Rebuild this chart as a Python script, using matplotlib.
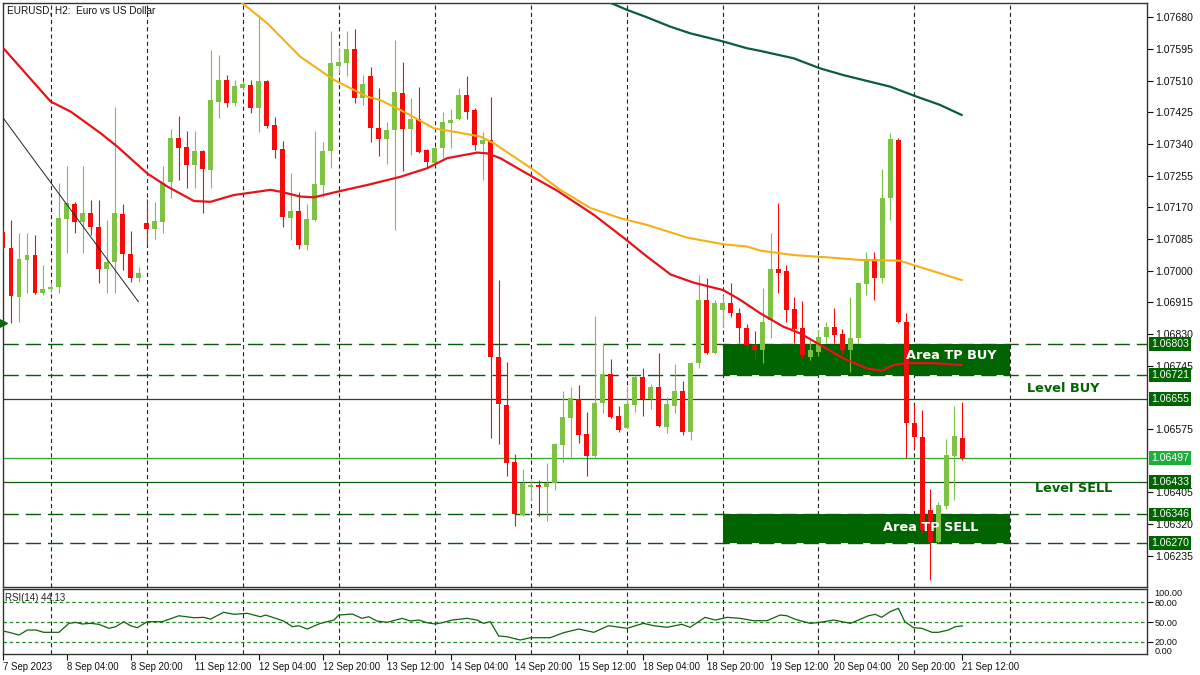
import matplotlib
matplotlib.use("Agg")
import matplotlib.pyplot as plt
import matplotlib.transforms as mtransforms
import numpy as np

plt.rcParams['lines.scale_dashes'] = False
plt.rcParams['font.family'] = ['Liberation Sans', 'DejaVu Sans']

# ---------------- data (H2 bars, index 0 = 7 Sep 2023 12:00) ----------------
opens = [
    1.07105, 1.07062, 1.06930, 1.07029, 1.07042, 1.06939, 1.06952, 1.06956, 1.07139, 1.07179,
    1.07132, 1.07154, 1.07117, 1.07006, 1.07024, 1.07151, 1.07045, 1.06980, 1.07127, 1.07112,
    1.07132, 1.07239, 1.07357, 1.07333, 1.07284, 1.07322, 1.07270, 1.07454, 1.07512, 1.07451,
    1.07490, 1.07498, 1.07437, 1.07509, 1.07391, 1.07326, 1.07142, 1.07161, 1.07069, 1.07136,
    1.07230, 1.07321, 1.07550, 1.07558, 1.07595, 1.07464, 1.07523, 1.07384, 1.07353, 1.07378,
    1.07476, 1.07380, 1.07407, 1.07324, 1.07290, 1.07329, 1.07397, 1.07406, 1.07472, 1.07431,
    1.07339, 1.07351, 1.06768, 1.06640, 1.06486, 1.06345, 1.06421, 1.06425, 1.06421, 1.06431,
    1.06532, 1.06606, 1.06655, 1.06562, 1.06503, 1.06644, 1.06723, 1.06610, 1.06579, 1.06640,
    1.06716, 1.06655, 1.06687, 1.06582, 1.06638, 1.06678, 1.06568, 1.06752, 1.06922, 1.06780,
    1.06895, 1.06914, 1.06886, 1.06846, 1.06801, 1.06787, 1.06868, 1.07004, 1.06999, 1.06897,
    1.06846, 1.06769, 1.06783, 1.06821, 1.06848, 1.06830, 1.06787, 1.06819, 1.06964, 1.07032,
    1.06980, 1.07194, 1.07351, 1.06863, 1.06592, 1.06553, 1.06358, 1.06273, 1.06369, 1.06503,
    1.06552]
highs = [
    1.07112, 1.07136, 1.07100, 1.07101, 1.07096, 1.07015, 1.06970, 1.07235, 1.07282, 1.07185,
    1.07282, 1.07190, 1.07190, 1.07136, 1.07440, 1.07179, 1.07107, 1.07011, 1.07192, 1.07185,
    1.07282, 1.07380, 1.07416, 1.07376, 1.07376, 1.07324, 1.07592, 1.07579, 1.07525, 1.07513,
    1.07510, 1.07512, 1.07686, 1.07512, 1.07412, 1.07348, 1.07261, 1.07212, 1.07179, 1.07376,
    1.07346, 1.07643, 1.07597, 1.07644, 1.07649, 1.07525, 1.07547, 1.07490, 1.07400, 1.07619,
    1.07561, 1.07463, 1.07492, 1.07326, 1.07331, 1.07427, 1.07434, 1.07490, 1.07523, 1.07436,
    1.07373, 1.07467, 1.06975, 1.06756, 1.06508, 1.06467, 1.06439, 1.06439, 1.06485, 1.06537,
    1.06678, 1.06689, 1.06693, 1.06622, 1.06879, 1.06805, 1.06762, 1.06637, 1.06691, 1.06720,
    1.06738, 1.06696, 1.06780, 1.06662, 1.06750, 1.06705, 1.06756, 1.06989, 1.06981, 1.06922,
    1.06935, 1.06966, 1.06900, 1.06857, 1.06837, 1.06953, 1.07100, 1.07181, 1.07015, 1.06929,
    1.06919, 1.06814, 1.06841, 1.06863, 1.06899, 1.06843, 1.06930, 1.06971, 1.07051, 1.07051,
    1.07272, 1.07370, 1.07355, 1.06887, 1.06640, 1.06626, 1.06414, 1.06380, 1.06548, 1.06637,
    1.06649]
lows = [
    1.07056, 1.06861, 1.06863, 1.06940, 1.06938, 1.06935, 1.06943, 1.06940, 1.07047, 1.07100,
    1.07047, 1.07096, 1.06966, 1.06939, 1.06939, 1.07002, 1.06971, 1.06971, 1.07069, 1.07084,
    1.07100, 1.07194, 1.07244, 1.07221, 1.07221, 1.07154, 1.07221, 1.07409, 1.07440, 1.07442,
    1.07485, 1.07422, 1.07373, 1.07382, 1.07302, 1.07118, 1.07082, 1.07058, 1.07056, 1.07134,
    1.07199, 1.07275, 1.07530, 1.07523, 1.07449, 1.07445, 1.07346, 1.07308, 1.07286, 1.07109,
    1.07268, 1.07311, 1.07317, 1.07279, 1.07284, 1.07302, 1.07329, 1.07404, 1.07406, 1.07324,
    1.07244, 1.06550, 1.06535, 1.06449, 1.06315, 1.06342, 1.06385, 1.06342, 1.06329, 1.06412,
    1.06488, 1.06499, 1.06539, 1.06449, 1.06501, 1.06618, 1.06604, 1.06568, 1.06577, 1.06622,
    1.06610, 1.06628, 1.06581, 1.06564, 1.06618, 1.06559, 1.06546, 1.06740, 1.06777, 1.06777,
    1.06850, 1.06877, 1.06807, 1.06789, 1.06762, 1.06752, 1.06819, 1.06939, 1.06862, 1.06805,
    1.06765, 1.06761, 1.06771, 1.06805, 1.06805, 1.06777, 1.06729, 1.06805, 1.06935, 1.06922,
    1.06968, 1.07136, 1.06860, 1.06497, 1.06524, 1.06296, 1.06170, 1.06269, 1.06360, 1.06385,
    1.06492]
closes = [
    1.07060, 1.06933, 1.07032, 1.07042, 1.06939, 1.06951, 1.06957, 1.07141, 1.07181, 1.07132,
    1.07154, 1.07118, 1.07004, 1.07023, 1.07154, 1.07044, 1.06980, 1.06993, 1.07112, 1.07134,
    1.07236, 1.07357, 1.07330, 1.07284, 1.07322, 1.07273, 1.07458, 1.07512, 1.07449, 1.07496,
    1.07501, 1.07437, 1.07509, 1.07388, 1.07324, 1.07145, 1.07160, 1.07069, 1.07138, 1.07233,
    1.07321, 1.07558, 1.07561, 1.07594, 1.07463, 1.07500, 1.07382, 1.07353, 1.07378, 1.07480,
    1.07380, 1.07407, 1.07319, 1.07293, 1.07329, 1.07398, 1.07404, 1.07472, 1.07427, 1.07337,
    1.07351, 1.06769, 1.06642, 1.06485, 1.06347, 1.06431, 1.06425, 1.06421, 1.06431, 1.06535,
    1.06608, 1.06658, 1.06559, 1.06503, 1.06644, 1.06723, 1.06607, 1.06573, 1.06643, 1.06716,
    1.06655, 1.06687, 1.06583, 1.06643, 1.06678, 1.06568, 1.06752, 1.06922, 1.06780, 1.06914,
    1.06914, 1.06886, 1.06846, 1.06801, 1.06787, 1.06863, 1.07004, 1.06995, 1.06895, 1.06843,
    1.06774, 1.06787, 1.06821, 1.06848, 1.06828, 1.06786, 1.06820, 1.06966, 1.07032, 1.06980,
    1.07194, 1.07353, 1.06863, 1.06592, 1.06553, 1.06304, 1.06273, 1.06372, 1.06506, 1.06557,
    1.06497]

# moving averages (bar position, price)
ma_red_x = [0.05, 5.96, 8.46, 12.21, 14.3, 18.05, 20.55, 23.9, 25.96, 28.84, 33.46, 34.71, 37.21,
            38.9, 41.8, 45.55, 49.7, 53.05, 55.55, 59.3, 60.55, 62.2, 65.1, 69.3, 73.9, 77.6,
            80.55, 83.5, 86.4, 90.1, 92.2, 94.7, 97.6, 99.7, 102.2, 105.1, 108.05, 109.9, 111.4,
            113.05, 116.4, 119.9]
ma_red_y = [1.07597, 1.07454, 1.07427, 1.07369, 1.07333, 1.07261, 1.07226, 1.07187, 1.07185,
            1.07203, 1.07217, 1.07212, 1.07199, 1.07197, 1.07212, 1.07230, 1.07252, 1.07275,
            1.07302, 1.07317, 1.07315, 1.07302, 1.07266, 1.07215, 1.07150, 1.07089, 1.07038,
            1.06990, 1.06968, 1.06948, 1.06922, 1.06886, 1.06850, 1.06832, 1.06801, 1.06765,
            1.06738, 1.06731, 1.06747, 1.06752, 1.06752, 1.06747]
ma_orange_x = [29.7, 33.05, 37.2, 41.4, 45.55, 47.2, 50.55, 53.9, 56.4, 59.7, 61.4, 63.9, 66.4,
               69.7, 73.5, 77.2, 80.55, 85.55, 90.1, 93.05, 94.7, 98.9, 103.05, 107.2, 112.2,
               113.9, 117.2, 119.9]
ma_orange_y = [1.07722, 1.07664, 1.07574, 1.07512, 1.07467, 1.07458, 1.07422, 1.07382, 1.07373,
               1.07360, 1.07342, 1.07306, 1.07270, 1.07217, 1.07168, 1.07141, 1.07123, 1.07089,
               1.07071, 1.07065, 1.07054, 1.07042, 1.07036, 1.07029, 1.07027, 1.07015, 1.06993,
               1.06975]
ma_teal_x = [75.96, 78.05, 80.55, 83.46, 85.96, 88.05, 90.1, 93.05, 94.7, 98.9, 102.2, 105.1,
             110.96, 114.3, 117.2, 119.9]
ma_teal_y = [1.07719, 1.07700, 1.07680, 1.07655, 1.07637, 1.07626, 1.07615, 1.07597, 1.07590,
             1.07570, 1.07543, 1.07525, 1.07494, 1.07467, 1.07445, 1.07418]

# RSI(14)
rsi_x = [0, 0.75, 2, 3.05, 4.1, 5.1, 7, 8.25, 9.1, 9.9,
         10.95, 12, 13.25, 14.1, 15.1, 15.95, 16.8, 18.05, 19.9, 22,
         23.9, 25.1, 25.95, 27.6, 28.9, 30.55, 32.2, 32.85, 34.1, 35.1,
         36.2, 37, 38.05, 39.7, 41.4, 42, 43.7, 44.9, 45.75, 46.8,
         48.05, 49.9, 50.95, 52, 53.05, 54.1, 55.1, 56.2, 58.05, 59.3,
         60.1, 60.95, 62, 63.05, 64.7, 65.95, 68.45, 70.1, 72, 73.9,
         75.75, 78.05, 80.1, 81.4, 83.05, 84.9, 85.95, 87.8, 89.1, 90.55,
         92.2, 93.9, 95.55, 97.2, 98.05, 99.1, 100.95, 102.2, 103.9, 106,
         107, 108.25, 109.1, 109.9, 110.95, 112, 112.8, 113.9, 114.9, 116.2,
         117, 118.25, 119.1, 120]
rsi_y = [36.4, 34.4, 30.3, 37.9, 37.9, 34.4, 34.4, 48.0, 49.5, 47.0,
         48.0, 46.5, 40.5, 42.9, 50.5, 44.4, 41.4, 50.5, 50.5, 59.5,
         56.5, 57.1, 54.5, 64.7, 61.7, 63.2, 58.0, 60.6, 55.6, 51.5,
         42.9, 44.4, 39.4, 48.0, 53.0, 60.6, 62.1, 55.6, 58.0, 51.5,
         49.5, 55.6, 51.5, 53.0, 48.9, 47.0, 49.5, 53.0, 55.6, 53.0,
         48.0, 50.5, 28.8, 27.7, 22.7, 26.2, 26.2, 33.8, 39.4, 34.4,
         44.4, 40.5, 48.0, 44.4, 42.0, 46.5, 42.0, 57.1, 53.0, 57.1,
         55.6, 52.0, 52.0, 60.6, 59.5, 54.1, 48.0, 49.5, 53.0, 48.0,
         53.0, 59.5, 61.7, 57.1, 65.6, 70.8, 50.5, 41.4, 40.5, 34.4,
         34.4, 37.9, 42.9, 44.13]
rsi_levels = [80, 50, 20]

# time axis labels (bar index -> label), day separators
time_tick_bars = [0, 8, 16, 24, 32, 40, 48, 56, 64, 72, 80, 88, 96, 104, 112, 120]
time_tick_labels = ['7 Sep 2023', '8 Sep 04:00', '8 Sep 20:00', '11 Sep 12:00', '12 Sep 04:00',
                    '12 Sep 20:00', '13 Sep 12:00', '14 Sep 04:00', '14 Sep 20:00', '15 Sep 12:00',
                    '18 Sep 04:00', '18 Sep 20:00', '19 Sep 12:00', '20 Sep 04:00', '20 Sep 20:00',
                    '21 Sep 12:00']
day_separator_bars = [6, 18, 30, 42, 54, 66, 78, 90, 102, 114, 126]

# price axis
price_ticks = [1.06235, 1.06320, 1.06405, 1.06575, 1.06745, 1.06830, 1.06915, 1.07000, 1.07085,
               1.07170, 1.07255, 1.07340, 1.07425, 1.07510, 1.07595, 1.07680]
dashed_levels = [1.06803, 1.06721, 1.06346, 1.06270]
solid_levels = [1.06655, 1.06433]
bid_price = 1.06497

# annotation objects
area_start_bar, area_end_bar = 90, 126
area_buy = (1.06721, 1.06803)
area_sell = (1.06270, 1.06346)
trend_x = [0.05, 16.93]
trend_y = [1.07409, 1.06917]

# ---------------- styling ----------------
BULL = '#7dc242'
BEAR = '#f40c0c'
DKGREEN = '#006400'
LEVEL = '#0b5a0b'

W, H = 1200, 675


def px_rect(x0, y0, x1, y1):
    return [x0 / W, 1 - y1 / H, (x1 - x0) / W, (y1 - y0) / H]


fig = plt.figure(figsize=(12, 6.75), dpi=100)
fig.patch.set_facecolor('white')
ax = fig.add_axes(px_rect(3, 3, 1147.3, 587.3))
rax = fig.add_axes(px_rect(3, 589.3, 1147.3, 653.7), sharex=ax)

o = np.array(opens); h = np.array(highs); l = np.array(lows); c = np.array(closes)
xb = np.arange(len(o))
cols = np.where(c >= o, BULL, BEAR)

ax.vlines(xb, l, h, colors=cols, lw=0.8, zorder=3)
ax.bar(xb, np.maximum(np.abs(c - o), 0.00003), bottom=np.minimum(o, c), width=0.62,
       color=cols, lw=0, zorder=3.1)

ax.plot(ma_red_x, ma_red_y, color='#e5141b', lw=1.6, zorder=4, solid_capstyle='round')
ax.plot(ma_orange_x, ma_orange_y, color='#f5b015', lw=1.5, zorder=4)
ax.plot(ma_teal_x, ma_teal_y, color='#0d5a48', lw=1.6, zorder=4)
ax.plot(trend_x, trend_y, color='#222222', lw=0.7, zorder=4)

# areas
for lo, hi in (area_buy, area_sell):
    ax.fill_between([area_start_bar, area_end_bar], lo, hi, color=DKGREEN, lw=0, zorder=2)

# level lines
for lv in dashed_levels:
    ax.axhline(lv, color=LEVEL, lw=1.0, dashes=(11, 5), zorder=2.5)
for lv in solid_levels:
    ax.axhline(lv, color=LEVEL, lw=0.9, zorder=2.5)
ax.axhline(bid_price, color='#2aa52a', lw=0.9, zorder=2.5)

# separators
for a in (ax, rax):
    for b in day_separator_bars:
        a.axvline(b, color='#222222', lw=0.8, dashes=(3, 2.2), zorder=1)

ax.set_xlim(0.09, 143.13)
ax.set_ylim(1.061506, 1.077184)

# labels inside chart
ax.text(118.6, 1.06772, 'Area TP BUY', color='white', fontsize=9.3, fontweight='bold',
        family='DejaVu Sans', ha='center', va='center', zorder=6)
ax.text(116.0, 1.06311, 'Area TP SELL', color='white', fontsize=9.3, fontweight='bold',
        family='DejaVu Sans', ha='center', va='center', zorder=6)
ax.text(132.6, 1.06685, 'Level BUY', color=DKGREEN, fontsize=9.3, fontweight='bold',
        family='DejaVu Sans', ha='center', va='center', zorder=6)
ax.text(133.9, 1.06416, 'Level SELL', color=DKGREEN, fontsize=9.3, fontweight='bold',
        family='DejaVu Sans', ha='center', va='center', zorder=6)

ax.text(0.0035, 0.988, 'EURUSD, H2:  Euro vs US Dollar', transform=ax.transAxes, fontsize=7.2,
        ha='left', va='center', color='#111111')
ax.plot([0], [1.06861], marker='>', color='#0a6a0a', markersize=6, clip_on=False, zorder=6,
        transform=mtransforms.blended_transform_factory(ax.transAxes, ax.transData))

# price axis
ax.yaxis.tick_right()
ax.set_yticks(price_ticks)
ax.set_yticklabels([f'{p:.5f}' for p in price_ticks])
ax.tick_params(axis='y', direction='out', length=4, width=0.8, pad=1.5, labelsize=7.6,
               colors='#111111')
ax.tick_params(axis='x', bottom=False, labelbottom=False)

tr = mtransforms.blended_transform_factory(ax.transAxes, ax.transData)
for lv in dashed_levels + solid_levels:
    ax.text(1.0035, lv, f'{lv:.5f}', transform=tr, fontsize=7.6, color='white', ha='left',
            va='center', clip_on=False, zorder=7,
            bbox=dict(boxstyle='square,pad=0.18', fc=DKGREEN, ec='none'))
ax.text(1.0035, bid_price, f'{bid_price:.5f}', transform=tr, fontsize=7.6, color='white',
        ha='left', va='center', clip_on=False, zorder=7,
        bbox=dict(boxstyle='square,pad=0.18', fc='#1fae3c', ec='none'))

# RSI panel
rax.plot(rsi_x, rsi_y, color='#0e640e', lw=0.9, zorder=3)
for lv in rsi_levels:
    rax.axhline(lv, color='#1f8a1f', lw=0.9, dashes=(2.5, 2), zorder=2)
rax.set_ylim(2, 99.6)
rax.yaxis.tick_right()
rax.set_yticks(rsi_levels)
rax.set_yticklabels([f'{v:.2f}' for v in rsi_levels])
rax.tick_params(axis='y', direction='out', length=4, width=0.8, pad=1.5, labelsize=6.6,
                colors='#111111')
trr = mtransforms.blended_transform_factory(rax.transAxes, rax.transData)
rax.text(1.006, 93, '100.00', transform=trr, fontsize=6.6, ha='left', va='center',
         clip_on=False, color='#111111')
rax.text(1.006, 6, '0.00', transform=trr, fontsize=6.6, ha='left', va='center',
         clip_on=False, color='#111111')
rax.text(0.002, 0.86, 'RSI(14) 44.13', transform=rax.transAxes, fontsize=7, ha='left',
         va='center', color='#222222')

rax.set_xticks(time_tick_bars)
rax.set_xticklabels(time_tick_labels)
rax.tick_params(axis='x', direction='out', length=4, width=0.8, pad=2, labelsize=6.9,
                colors='#111111')
for t in rax.get_xticklabels():
    t.set_horizontalalignment('left')

for a in (ax, rax):
    for s in a.spines.values():
        s.set_color('#333333')
        s.set_linewidth(1.0)

fig.savefig('out.png', dpi=100, facecolor='white')
